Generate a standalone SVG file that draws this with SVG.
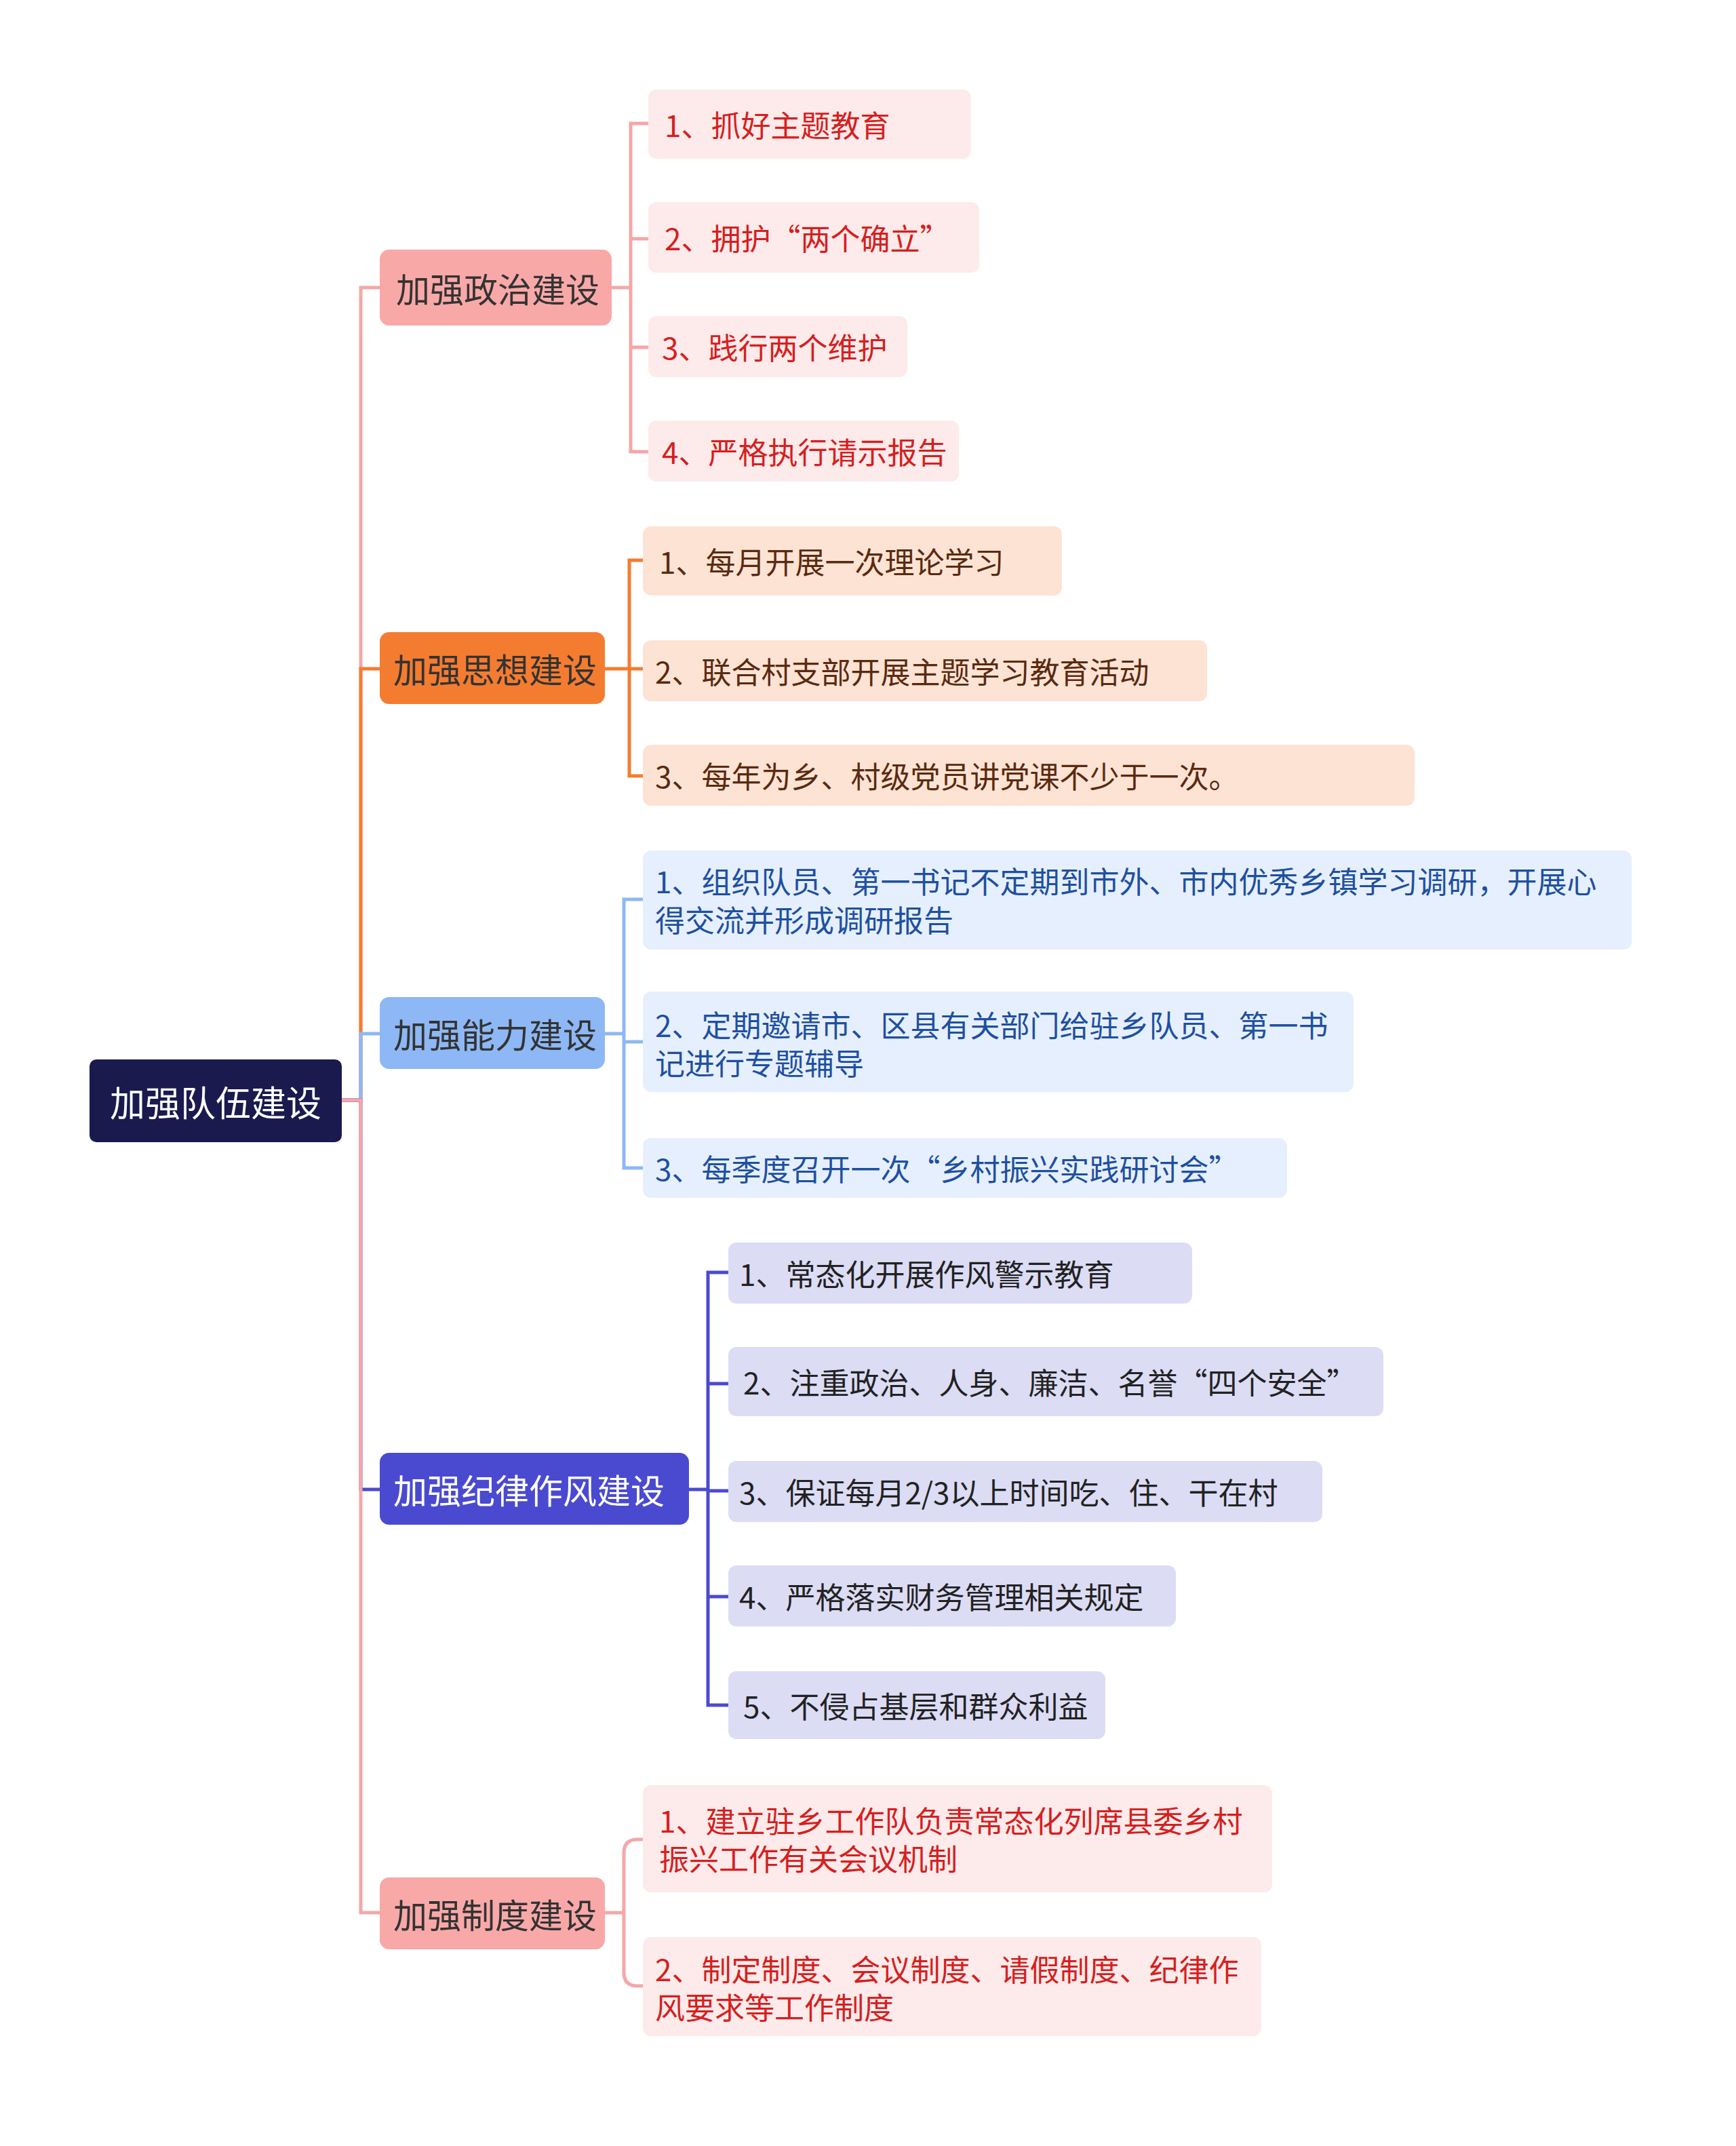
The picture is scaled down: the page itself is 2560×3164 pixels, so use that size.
<svg xmlns="http://www.w3.org/2000/svg" width="2560" height="3164" viewBox="0 0 2560 3164">
<style>
text{font-family:"Noto Sans CJK SC","Noto Sans",sans-serif;dominant-baseline:central}
.b{font-size:50px}
.c{font-size:44px}
.ln{fill:none;stroke-width:5}
</style>
<rect width="2560" height="3164" fill="#fff"/>
<g id="connectors">
<path class="ln" stroke="#f4a7a7" d="M504,1622H532V424H560"/>
<path class="ln" stroke="#f47c30" d="M504,1622H532V986H560"/>
<path class="ln" stroke="#8db8f5" d="M504,1622H532V1524H560"/>
<path class="ln" stroke="#4a4ad0" d="M504,1622H532V2196H560"/>
<path class="ln" stroke="#f4a7a7" d="M504,1622H532V2820H560"/>
<path class="ln" stroke="#f4a7a7" d="M902,424H930M956,182H930V666H956M930,352H956M930,512H956"/>
<path class="ln" stroke="#f47c30" d="M892,986H928M957,826H928V1144H957M928,986H957"/>
<path class="ln" stroke="#8db8f5" d="M892,1524H920M948,1326H920V1722H948M920,1536H948"/>
<path class="ln" stroke="#4a4ad0" d="M1016,2196H1044M1074,1876H1044V2514H1074M1044,2040H1074M1044,2198H1074M1044,2354H1074"/>
<path class="ln" stroke="#f4a7a7" d="M892,2820H920M948,2712H940Q920,2712 920,2732V2908Q920,2928 940,2928H948"/>
</g>
<g id="root"><rect x="132" y="1562" width="372" height="122" rx="10" fill="#1a1a4e"/><text x="318" y="1623" font-size="52" fill="#fff" text-anchor="middle">加强队伍建设</text></g>
<g id="b1"><rect x="560" y="368" width="342" height="112" rx="14" fill="#f9a8a8"/><text class="b" x="584" y="424" fill="#333">加强政治建设</text></g>
<g id="b1c1"><rect x="956" y="132" width="476" height="102" rx="12" fill="#fdeaea"/><text class="c" x="980" y="183" fill="#d42020">1、抓好主题教育</text></g>
<g id="b1c2"><rect x="956" y="298" width="488" height="104" rx="12" fill="#fdeaea"/><text class="c" x="980" y="350" fill="#d42020">2、拥护“两个确立”</text></g>
<g id="b1c3"><rect x="956" y="466" width="382" height="90" rx="12" fill="#fdeaea"/><text class="c" x="976" y="511" fill="#d42020">3、践行两个维护</text></g>
<g id="b1c4"><rect x="956" y="620" width="458" height="90" rx="12" fill="#fdeaea"/><text class="c" x="976" y="665" fill="#d42020">4、严格执行请示报告</text></g>
<g id="b2"><rect x="560" y="932" width="332" height="106" rx="14" fill="#f47c30"/><text class="b" x="580" y="985" fill="#333">加强思想建设</text></g>
<g id="b2c1"><rect x="948" y="776" width="618" height="102" rx="12" fill="#fde3d4"/><text class="c" x="972" y="827" fill="#5a2a10">1、每月开展一次理论学习</text></g>
<g id="b2c2"><rect x="948" y="944" width="832" height="90" rx="12" fill="#fde3d4"/><text class="c" x="966" y="989" fill="#5a2a10">2、联合村支部开展主题学习教育活动</text></g>
<g id="b2c3"><rect x="948" y="1098" width="1138" height="90" rx="12" fill="#fde3d4"/><text class="c" x="966" y="1143" fill="#5a2a10">3、每年为乡、村级党员讲党课不少于一次。</text></g>
<g id="b3"><rect x="560" y="1470" width="332" height="106" rx="14" fill="#8db8f5"/><text class="b" x="580" y="1523" fill="#333">加强能力建设</text></g>
<g id="b3c1"><rect x="948" y="1254" width="1458" height="146" rx="12" fill="#e6effd"/><text class="c" x="966" y="1298" fill="#1e50a0">1、组织队员、第一书记不定期到市外、市内优秀乡镇学习调研，开展心</text><text class="c" x="966" y="1355" fill="#1e50a0">得交流并形成调研报告</text></g>
<g id="b3c2"><rect x="948" y="1462" width="1048" height="148" rx="12" fill="#e6effd"/><text class="c" x="966" y="1510" fill="#1e50a0">2、定期邀请市、区县有关部门给驻乡队员、第一书</text><text class="c" x="966" y="1566" fill="#1e50a0">记进行专题辅导</text></g>
<g id="b3c3"><rect x="948" y="1678" width="950" height="88" rx="12" fill="#e6effd"/><text class="c" x="966" y="1722" fill="#1e50a0">3、每季度召开一次“乡村振兴实践研讨会”</text></g>
<g id="b4"><rect x="560" y="2142" width="456" height="106" rx="14" fill="#4a4ad0"/><text class="b" x="580" y="2195" fill="#fff">加强纪律作风建设</text></g>
<g id="b4c1"><rect x="1074" y="1832" width="684" height="90" rx="12" fill="#dcdcf5"/><text class="c" x="1090" y="1877" fill="#222">1、常态化开展作风警示教育</text></g>
<g id="b4c2"><rect x="1074" y="1986" width="966" height="102" rx="12" fill="#dcdcf5"/><text class="c" x="1096" y="2037" fill="#222">2、注重政治、人身、廉洁、名誉“四个安全”</text></g>
<g id="b4c3"><rect x="1074" y="2154" width="876" height="90" rx="12" fill="#dcdcf5"/><text class="c" x="1090" y="2199" fill="#222">3、保证每月2/3以上时间吃、住、干在村</text></g>
<g id="b4c4"><rect x="1074" y="2308" width="660" height="90" rx="12" fill="#dcdcf5"/><text class="c" x="1090" y="2353" fill="#222">4、严格落实财务管理相关规定</text></g>
<g id="b4c5"><rect x="1074" y="2464" width="556" height="100" rx="12" fill="#dcdcf5"/><text class="c" x="1096" y="2514" fill="#222">5、不侵占基层和群众利益</text></g>
<g id="b5"><rect x="560" y="2768" width="332" height="106" rx="14" fill="#f9a8a8"/><text class="b" x="580" y="2821" fill="#333">加强制度建设</text></g>
<g id="b5c1"><rect x="948" y="2632" width="928" height="158" rx="12" fill="#fdeaea"/><text class="c" x="972" y="2683" fill="#d42020">1、建立驻乡工作队负责常态化列席县委乡村</text><text class="c" x="972" y="2739" fill="#d42020">振兴工作有关会议机制</text></g>
<g id="b5c2"><rect x="948" y="2856" width="912" height="146" rx="12" fill="#fdeaea"/><text class="c" x="966" y="2902" fill="#d42020">2、制定制度、会议制度、请假制度、纪律作</text><text class="c" x="966" y="2958" fill="#d42020">风要求等工作制度</text></g>
</svg>
